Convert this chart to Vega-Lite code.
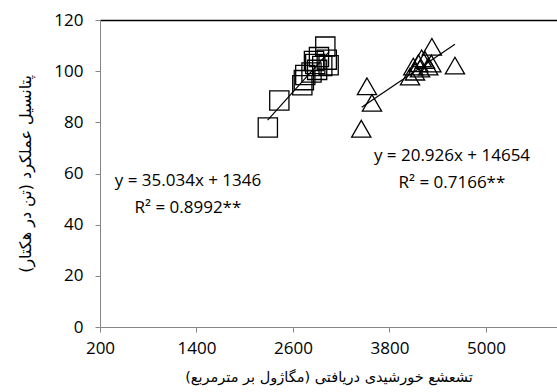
{
  "$schema": "https://vega.github.io/schema/vega-lite/v6.json",
  "width": 457,
  "height": 307,
  "autosize": {"type": "none"},
  "padding": {"left": 100, "top": 20, "right": 0, "bottom": 65},
  "background": "white",
  "config": {
    "view": {"stroke": null},
    "font": "Open Sans",
    "axis": {"grid": false}
  },
  "datasets": {
    "points": [
      {"x": 2287, "y": 78, "g": "A"},
      {"x": 2430, "y": 88.5, "g": "A"},
      {"x": 2716, "y": 94.5, "g": "A"},
      {"x": 2735, "y": 96.5, "g": "A"},
      {"x": 2753, "y": 98.5, "g": "A"},
      {"x": 2830, "y": 99.5, "g": "A"},
      {"x": 2861, "y": 104, "g": "A"},
      {"x": 2877, "y": 102.8, "g": "A"},
      {"x": 2900, "y": 100.5, "g": "A"},
      {"x": 2923, "y": 105.5, "g": "A"},
      {"x": 2964, "y": 102, "g": "A"},
      {"x": 3002, "y": 109.6, "g": "A"},
      {"x": 3020, "y": 104.5, "g": "A"},
      {"x": 3043, "y": 102.3, "g": "A"},
      {"x": 3449, "y": 77.5, "g": "B"},
      {"x": 3520, "y": 94.1, "g": "B"},
      {"x": 3582, "y": 87.6, "g": "B"},
      {"x": 4055, "y": 97.9, "g": "B"},
      {"x": 4096, "y": 101.8, "g": "B"},
      {"x": 4117, "y": 99.8, "g": "B"},
      {"x": 4159, "y": 103.1, "g": "B"},
      {"x": 4180, "y": 101, "g": "B"},
      {"x": 4200, "y": 105, "g": "B"},
      {"x": 4241, "y": 104.4, "g": "B"},
      {"x": 4282, "y": 101.8, "g": "B"},
      {"x": 4320, "y": 103, "g": "B"},
      {"x": 4327, "y": 109.5, "g": "B"},
      {"x": 4614, "y": 102.2, "g": "B"}
    ],
    "lines": [
      {"x": 2285, "y": 80.9, "g": "A"},
      {"x": 3051, "y": 107.6, "g": "A"},
      {"x": 3454, "y": 85.9, "g": "B"},
      {"x": 4614, "y": 110.5, "g": "B"}
    ],
    "labels": [
      {"x": 1294, "y": 57.1, "t": "y = 35.034x + 1346"},
      {"x": 1294, "y": 46.5, "t": "R² = 0.8992**"},
      {"x": 4577, "y": 66.8, "t": "y = 20.926x + 14654"},
      {"x": 4577, "y": 56.3, "t": "R² = 0.7166**"}
    ]
  },
  "resolve": {"axis": {"x": "independent", "y": "independent"}},
  "layer": [
    {
      "data": {"name": "points"},
      "mark": {"type": "point", "filled": false, "stroke": "black", "strokeWidth": 1.3, "opacity": 1, "size": 370},
      "encoding": {
        "x": {
          "field": "x", "type": "quantitative",
          "scale": {"domain": [200, 5883], "nice": false, "zero": false},
          "axis": {
            "values": [200, 1400, 2600, 3800, 5000],
            "format": "d",
            "title": "تشعشع خورشیدی دریافتی (مگاژول بر مترمربع)",
            "titleFont": "DejaVu Sans", "titleFontSize": 14.5, "titleFontWeight": "normal",
            "titleColor": "black", "titlePadding": 14,
            "labelFontSize": 17, "labelColor": "black", "labelPadding": 8,
            "labelFlush": false,
            "domainColor": "#868686", "tickColor": "#868686", "tickSize": 5
          }
        },
        "y": {
          "field": "y", "type": "quantitative",
          "scale": {"domain": [0, 120], "nice": false},
          "axis": {
            "values": [0, 20, 40, 60, 80, 100, 120],
            "title": "پتانسیل عملکرد (تن در هکتار)",
            "titleFont": "DejaVu Sans", "titleFontSize": 16, "titleFontWeight": "normal",
            "titleColor": "black", "titlePadding": 20,
            "labelFontSize": 17, "labelColor": "black", "labelPadding": 12,
            "domainColor": "#868686", "tickColor": "#868686", "tickSize": 5
          }
        },
        "shape": {
          "field": "g", "type": "nominal",
          "scale": {"domain": ["A", "B"], "range": ["square", "triangle-up"]},
          "legend": null
        }
      }
    },
    {
      "data": {"name": "lines"},
      "mark": {"type": "line", "color": "black", "strokeWidth": 1.2},
      "encoding": {
        "x": {
          "field": "x", "type": "quantitative",
          "axis": {"orient": "top", "labels": false, "ticks": false, "title": null, "domainColor": "black", "domainWidth": 1.5}
        },
        "y": {"field": "y", "type": "quantitative", "axis": null},
        "detail": {"field": "g"}
      }
    },
    {
      "data": {"name": "labels"},
      "mark": {"type": "text", "fontSize": 17, "color": "black", "align": "center", "baseline": "middle"},
      "encoding": {
        "x": {"field": "x", "type": "quantitative", "axis": null},
        "y": {"field": "y", "type": "quantitative", "axis": null},
        "text": {"field": "t"}
      }
    }
  ]
}
